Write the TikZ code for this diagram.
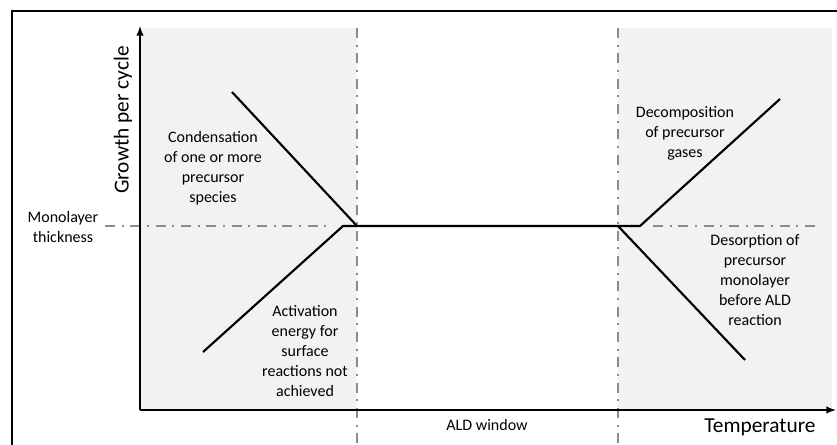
\documentclass[tikz,border=0pt]{standalone}
\usepackage{fontspec}
\setmainfont{Carlito}
\usetikzlibrary{arrows, positioning}

\definecolor{shadegray}{HTML}{F2F2F2}
\definecolor{guidegray}{HTML}{8C8C8C}

\begin{document}
\begin{tikzpicture}[x=0.75pt, y=-0.75pt,
	curve/.style={line width=1.6pt, line join=round},
	guide/.style={guidegray, line width=1.6pt, dash pattern=on 7.5pt off 5pt on 1.5pt off 5pt},
	note/.style={align=center, inner sep=0pt, font=\fontsize{12}{15}\selectfont},
	axislabel/.style={inner sep=0pt, font=\fontsize{16}{19}\selectfont}]
	
	\useasboundingbox (0,0) rectangle (837,445);
	
	% shaded regimes
	\fill[shadegray] (140,28) rectangle (357,410);
	\fill[shadegray] (618,28) rectangle (832,410);
	
	% frame
	\draw[line width=1.5pt] (12,445) -- (12,11) -- (837,11);
	
	\coordinate (O) at (140,410);
	\coordinate (ytop) at (140,26);
	\coordinate (xend) at (836,410);
	
	\coordinate (lowA) at (357,28);
	\coordinate (lowB) at (357,445);
	\coordinate (highA) at (618,28);
	\coordinate (highB) at (618,445);
	
	\coordinate (monoL1) at (105,226);
	\coordinate (monoL2) at (330,226);
	\coordinate (monoR1) at (653,226);
	\coordinate (monoR2) at (820,226);
	
	\coordinate (act1) at (203,352);
	\coordinate (act2) at (343,226);
	\coordinate (dec1) at (640,226);
	\coordinate (dec2) at (780,99);
	\coordinate (cond1) at (232,92);
	\coordinate (cond2) at (357,226);
	\coordinate (des1) at (618,226);
	\coordinate (des2) at (745,360);
	
	\draw[guide] (lowA) -- (lowB);
	\draw[guide] (highA) -- (highB);
	\draw[guide] (monoL1) -- (monoL2);
	\draw[guide] (monoR1) -- (monoR2);
	
	% axes
	\draw[line width=1.5pt, -latex] (O) -- (ytop);
	\draw[line width=1.5pt, -latex] (O) -- (xend);
	
	% growth curve
	\draw[curve] (act1) -- (act2) -- (dec1) -- (dec2);
	\draw[curve] (cond1) -- (cond2);
	\draw[curve] (des1) -- (des2);
	
	\node[axislabel, rotate=90] (gpc) at (123,120) {Growth per cycle};
	\node[axislabel] (temp) at (760,427) {Temperature};
	\node[note] (window) at (487,425) {ALD window};
	\node[note] (mono) at (63,227) {Monolayer\\thickness};
	\node[note] (cond) at (213,168) {Condensation\\of one or more\\precursor\\species};
	\node[note] (act) at (305,351) {Activation\\energy for\\surface\\reactions not\\achieved};
	\node[note] (decomp) at (685,133) {Decomposition\\of precursor\\gases};
	\node[note] (desorb) at (755,280) {Desorption of\\precursor\\monolayer\\before ALD\\reaction};
\end{tikzpicture}
\end{document}
